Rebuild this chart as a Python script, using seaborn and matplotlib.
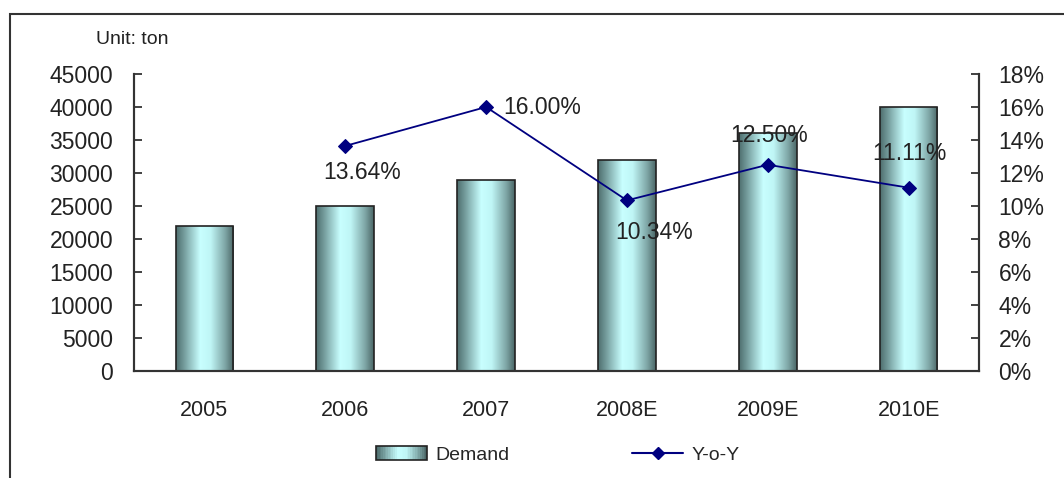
import numpy as np
import pandas as pd
import matplotlib
matplotlib.use("Agg")
import matplotlib.pyplot as plt
import seaborn as sns
from matplotlib.colors import LinearSegmentedColormap
from matplotlib.patches import Rectangle
from matplotlib.lines import Line2D
from matplotlib.legend_handler import HandlerBase

years = ["2005", "2006", "2007", "2008E", "2009E", "2010E"]
demand = [22000, 25000, 29000, 32000, 36000, 40000]
yoy_years = ["2006", "2007", "2008E", "2009E", "2010E"]
yoy = [13.64, 16.00, 10.34, 12.50, 11.11]
yoy_labels = ["13.64%", "16.00%", "10.34%", "12.50%", "11.11%"]
y_left_ticks = list(range(0, 45001, 5000))
y_right_ticks = list(range(0, 19, 2))

sns.set_style("white")
plt.rcParams["font.family"] = ["Liberation Sans", "DejaVu Sans"]

bar_cmap = LinearSegmentedColormap.from_list(
    "cyl", [(0, "#4e6e6e"), (0.12, "#6f9696"), (0.42, "#c8ffff"),
            (0.6, "#bff5f5"), (0.85, "#7ea6a6"), (1, "#4a6666")])


class GradientHandler(HandlerBase):
    def create_artists(self, legend, orig_handle, xdescent, ydescent,
                       width, height, fontsize, trans):
        arts = []
        n = 30
        for i in range(n):
            r = Rectangle((-xdescent + width * i / n, -ydescent), width / n + 0.3, height,
                          facecolor=bar_cmap(i / (n - 1)), edgecolor="none", transform=trans)
            arts.append(r)
        arts.append(Rectangle((-xdescent, -ydescent), width, height, facecolor="none",
                              edgecolor="#222222", lw=1.2, transform=trans))
        return arts


fig = plt.figure(figsize=(10.64, 4.78), dpi=100)
fig.patches.append(Rectangle((10 / 1064, -0.1), 1.2, 1 - 14 / 478 + 0.1, transform=fig.transFigure,
                             facecolor="none", edgecolor="#333333", lw=1.5))
ax = fig.add_axes([134 / 1064, 1 - 371 / 478, (979 - 134) / 1064, (371 - 74) / 478])

df = pd.DataFrame({"year": years, "demand": demand})
sns.barplot(data=df, x="year", y="demand", ax=ax, width=0.41, color="#9cd6d6",
            edgecolor="#222222", linewidth=1.2, zorder=2)

# gradient fill inside each bar
grad = np.linspace(0, 1, 256).reshape(1, -1)
for bar in ax.patches:
    x0, y0 = bar.get_x(), bar.get_y()
    w, h = bar.get_width(), bar.get_height()
    im = ax.imshow(grad, cmap=bar_cmap, aspect="auto", extent=[x0, x0 + w, y0, y0 + h],
                   zorder=2.5)
    im.set_clip_path(bar)
    bar.set_facecolor("none")
    bar.set_zorder(3)
ax.set_xlim(-0.5, 5.5)
ax.set_ylim(0, 45000)

ax2 = ax.twinx()
pos = [years.index(y) for y in yoy_years]
ldf = pd.DataFrame({"pos": pos, "yoy": yoy})
sns.lineplot(data=ldf, x="pos", y="yoy", ax=ax2, color="#000080", lw=1.3, marker="D",
             markersize=7, markeredgecolor="#000080", zorder=5)
ax2.set_ylim(0, 18)
ax2.set_xlim(-0.5, 5.5)

offsets = [(17, -27, "center"), (17, 0, "left"), (27, -32, "center"),
           (1, 29, "center"), (1, 34, "center")]
for p, v, lab, (dx, dy, ha) in zip(pos, yoy, yoy_labels, offsets):
    ax2.annotate(lab, (p, v), xytext=(dx, dy), textcoords="offset pixels",
                 ha=ha, va="center", fontsize=16.5, color="#222222", zorder=6)

for a in (ax, ax2):
    for s in a.spines.values():
        s.set_color("#333333")
        s.set_linewidth(1.5)
    a.spines["top"].set_visible(False)
    a.set_xlabel("")
    a.set_ylabel("")

ax.set_yticks(y_left_ticks)
ax.set_yticklabels([str(t) for t in y_left_ticks], fontsize=16.5, color="#222222")
ax2.set_yticks(y_right_ticks)
ax2.set_yticklabels([f"{t}%" for t in y_right_ticks], fontsize=16.5, color="#222222")
ax.tick_params(axis="y", direction="in", length=6, width=1.3, color="#333333", pad=15)
ax2.tick_params(axis="y", direction="in", length=6, width=1.3, color="#333333", pad=14)
ax.set_xticks(range(len(years)))
ax.set_xticklabels(years, fontsize=15.5, color="#222222")
ax.tick_params(axis="x", length=0, pad=21)
ax.set_xticks(np.arange(-0.5, 6, 1), minor=True)
ax.tick_params(axis="x", which="minor", direction="in", length=5, width=1.3, color="#333333")
ax2.tick_params(axis="x", length=0)

fig.text(96 / 1064, 1 - 40 / 478, "Unit: ton", fontsize=14, va="center", color="#222222")

handles = [Rectangle((0, 0), 1, 1), Line2D([], [], color="#000080", lw=1.5, marker="D",
                                           markersize=6)]
fig.legend(handles, ["Demand", "Y-o-Y"], loc="center", bbox_to_anchor=(558 / 1064, 1 - 455 / 478),
           ncol=2, frameon=False, fontsize=14, handlelength=2.6, handleheight=0.7,
           columnspacing=6.3, handletextpad=0.45,
           handler_map={Rectangle: GradientHandler()})

fig.savefig("out.png", dpi=100)
